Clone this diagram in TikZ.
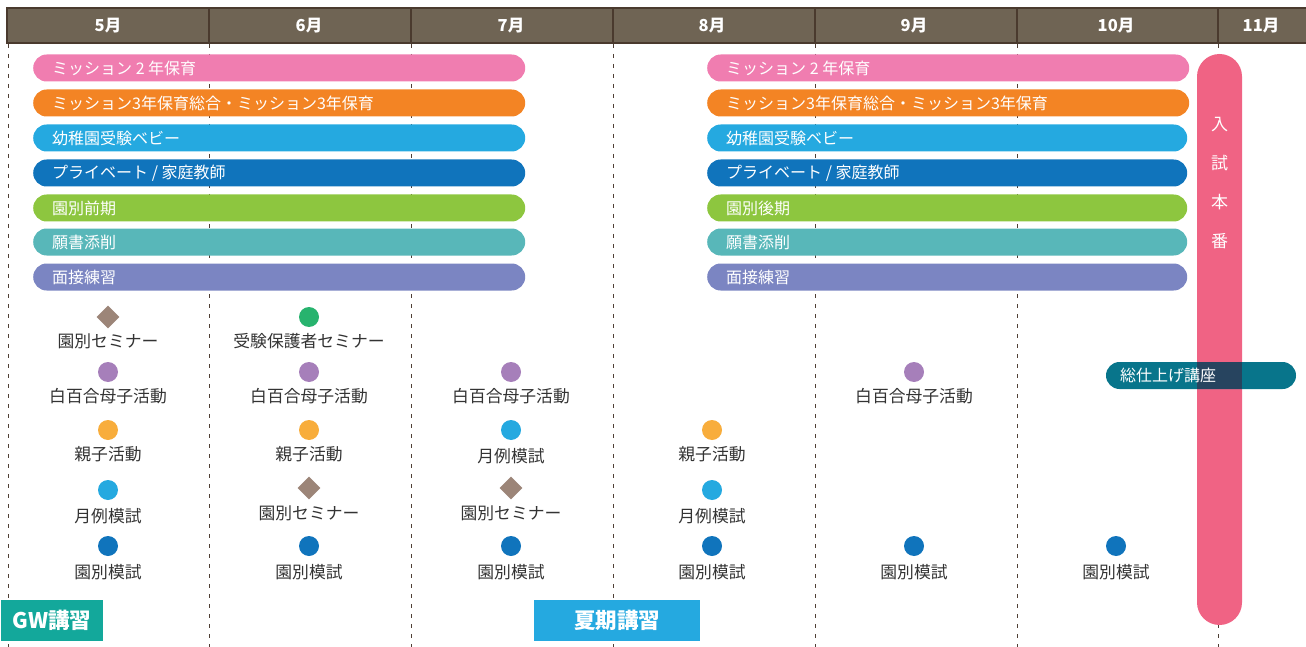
\documentclass[tikz,border=0pt]{standalone}
\usepackage{fontspec}
\setmainfont{Noto Sans CJK JP}
\usetikzlibrary{shapes.geometric}
\definecolor{hdr}{HTML}{6F6454}
\definecolor{hdrline}{HTML}{4A3A2E}
\definecolor{dashcol}{HTML}{4F3F35}
\definecolor{cPink}{HTML}{F07DB0}
\definecolor{cOrange}{HTML}{F38424}
\definecolor{cLblue}{HTML}{25A9E0}
\definecolor{cBlue}{HTML}{1074BC}
\definecolor{cGreen}{HTML}{8DC63F}
\definecolor{cTeal}{HTML}{58B7B9}
\definecolor{cViolet}{HTML}{7B85C2}
\definecolor{cExam}{HTML}{F06384}
\definecolor{cFinal}{HTML}{08758B}
\definecolor{cOver}{HTML}{27445F}
\definecolor{mDia}{HTML}{9C8578}
\definecolor{mGreen}{HTML}{27B36E}
\definecolor{mPurple}{HTML}{A67FBA}
\definecolor{mOrange}{HTML}{F8AD3C}
\definecolor{cGW}{HTML}{13A89B}
\definecolor{txt}{HTML}{333333}
\tikzset{
  x=1pt, y=-1pt,
  bar/.style={fill=#1, rounded corners=13.5pt, minimum height=27pt, inner sep=0pt, anchor=west},
  bartxt/.style={text=white, anchor=west, inner sep=0pt, font=\fontsize{16}{18}\selectfont},
  hdrtxt/.style={text=white, font=\bfseries\fontsize{16.5}{18}\selectfont},
  dot/.style={circle, fill=#1, minimum size=20pt, inner sep=0pt},
  dia/.style={diamond, fill=mDia, minimum size=23pt, inner sep=0pt},
  lbl/.style={text=txt, font=\fontsize{16.8}{18}\selectfont, inner sep=0pt},
  mline/.style={draw=dashcol, line width=0.9pt, dash pattern=on 4pt off 6pt},
  box/.style={minimum height=41pt, inner sep=0pt, text=white, font=\bfseries\fontsize{21.5}{24}\selectfont}
}
\begin{document}
\begin{tikzpicture}
\useasboundingbox (0,0) rectangle (1306,647);
% header
\fill[hdr] (7,8) rectangle (1306,43);
\draw[hdrline, line width=1.3pt] (1306,8) -- (7,8) -- (7,43) -- (1306,43);
\foreach \x in {209,411,613,815,1017,1218} \draw[hdrline, line width=1.3pt] (\x,8) -- (\x,43);
\node[hdrtxt] (h5) at (108,26) {5月};
\node[hdrtxt] (h6) at (309,26) {6月};
\node[hdrtxt] (h7) at (511,26) {7月};
\node[hdrtxt] (h8) at (712,26) {8月};
\node[hdrtxt] (h9) at (914,26) {9月};
\node[hdrtxt] (h10) at (1116,26) {10月};
\node[hdrtxt] (h11) at (1261,26) {11月};
% dashed month lines
\foreach \x in {8,209,411,613,815,1017,1218} \draw[mline] (\x,44) -- (\x,647);
% left bars
\node[bar=cPink, minimum width=492pt] (l1) at (33,68) {};
\node[bar=cOrange, minimum width=492pt] (l2) at (33,103) {};
\node[bar=cLblue, minimum width=492pt] (l3) at (33,138) {};
\node[bar=cBlue, minimum width=492pt] (l4) at (33,173) {};
\node[bar=cGreen, minimum width=492pt] (l5) at (33,208) {};
\node[bar=cTeal, minimum width=492pt] (l6) at (33,242) {};
\node[bar=cViolet, minimum width=492pt] (l7) at (33,277) {};
\node[bartxt] (lt1) at (52,68) {ミッション 2 年保育};
\node[bartxt] (lt2) at (52,103) {ミッション3年保育総合・ミッション3年保育};
\node[bartxt] (lt3) at (52,138) {幼稚園受験ベビー};
\node[bartxt] (lt4) at (52,173) {プライベート / 家庭教師};
\node[bartxt] (lt5) at (52,208) {園別前期};
\node[bartxt] (lt6) at (52,242) {願書添削};
\node[bartxt] (lt7) at (52,277) {面接練習};
% right bars
\node[bar=cPink, minimum width=482pt] (r1) at (707,68) {};
\node[bar=cOrange, minimum width=482pt] (r2) at (707,103) {};
\node[bar=cLblue, minimum width=480pt] (r3) at (707,138) {};
\node[bar=cBlue, minimum width=480pt] (r4) at (707,173) {};
\node[bar=cGreen, minimum width=480pt] (r5) at (707,208) {};
\node[bar=cTeal, minimum width=480pt] (r6) at (707,242) {};
\node[bar=cViolet, minimum width=480pt] (r7) at (707,277) {};
\node[bartxt] (rt1) at (726,68) {ミッション 2 年保育};
\node[bartxt] (rt2) at (726,103) {ミッション3年保育総合・ミッション3年保育};
\node[bartxt] (rt3) at (726,138) {幼稚園受験ベビー};
\node[bartxt] (rt4) at (726,173) {プライベート / 家庭教師};
\node[bartxt] (rt5) at (726,208) {園別後期};
\node[bartxt] (rt6) at (726,242) {願書添削};
\node[bartxt] (rt7) at (726,277) {面接練習};
% exam bar
\fill[cExam, rounded corners=22.5pt] (1197,54) rectangle (1242,625);
\node[bartxt, anchor=center, font=\fontsize{17}{18}\selectfont] (e1) at (1219.5,125) {入};
\node[bartxt, anchor=center, font=\fontsize{17}{18}\selectfont] (e2) at (1219.5,163) {試};
\node[bartxt, anchor=center, font=\fontsize{17}{18}\selectfont] (e3) at (1219.5,202) {本};
\node[bartxt, anchor=center, font=\fontsize{17}{18}\selectfont] (e4) at (1219.5,241) {番};
% final course
\fill[cFinal, rounded corners=13.5pt] (1106,362) rectangle (1296,389);
\fill[cOver] (1197,362) rectangle (1242,389);
\node[bartxt] (fin) at (1120,375.5) {総仕上げ講座};
% column 5
\node[dia] (a1) at (108,317) {};
\node[lbl] (a1t) at (108,341) {園別セミナー};
\node[dot=mPurple] (a2) at (108,372) {};
\node[lbl] (a2t) at (108,396) {白百合母子活動};
\node[dot=mOrange] (a3) at (108,430) {};
\node[lbl] (a3t) at (108,454) {親子活動};
\node[dot=cLblue] (a4) at (108,490) {};
\node[lbl] (a4t) at (108,516) {月例模試};
\node[dot=cBlue] (a5) at (108,546) {};
\node[lbl] (a5t) at (108,572) {園別模試};
% column 6
\node[dot=mGreen] (b1) at (309,317) {};
\node[lbl] (b1t) at (309,341) {受験保護者セミナー};
\node[dot=mPurple] (b2) at (309,372) {};
\node[lbl] (b2t) at (309,396) {白百合母子活動};
\node[dot=mOrange] (b3) at (309,430) {};
\node[lbl] (b3t) at (309,454) {親子活動};
\node[dia] (b4) at (309,488) {};
\node[lbl] (b4t) at (309,513) {園別セミナー};
\node[dot=cBlue] (b5) at (309,546) {};
\node[lbl] (b5t) at (309,572) {園別模試};
% column 7
\node[dot=mPurple] (c2) at (511,372) {};
\node[lbl] (c2t) at (511,396) {白百合母子活動};
\node[dot=cLblue] (c3) at (511,430) {};
\node[lbl] (c3t) at (511,456) {月例模試};
\node[dia] (c4) at (511,488) {};
\node[lbl] (c4t) at (511,513) {園別セミナー};
\node[dot=cBlue] (c5) at (511,546) {};
\node[lbl] (c5t) at (511,572) {園別模試};
% column 8
\node[dot=mOrange] (d3) at (712,430) {};
\node[lbl] (d3t) at (712,454) {親子活動};
\node[dot=cLblue] (d4) at (712,490) {};
\node[lbl] (d4t) at (712,516) {月例模試};
\node[dot=cBlue] (d5) at (712,546) {};
\node[lbl] (d5t) at (712,572) {園別模試};
% column 9
\node[dot=mPurple] (e2m) at (914,372) {};
\node[lbl] (e2t) at (914,396) {白百合母子活動};
\node[dot=cBlue] (e5) at (914,546) {};
\node[lbl] (e5t) at (914,572) {園別模試};
% column 10
\node[dot=cBlue] (f5) at (1116,546) {};
\node[lbl] (f5t) at (1116,572) {園別模試};
% bottom boxes
\node[box, fill=cGW, minimum width=102pt] (gw) at (52,620.5) {GW講習};
\node[box, fill=cLblue, minimum width=166pt] (summer) at (617,620.5) {夏期講習};
\end{tikzpicture}
\end{document}
